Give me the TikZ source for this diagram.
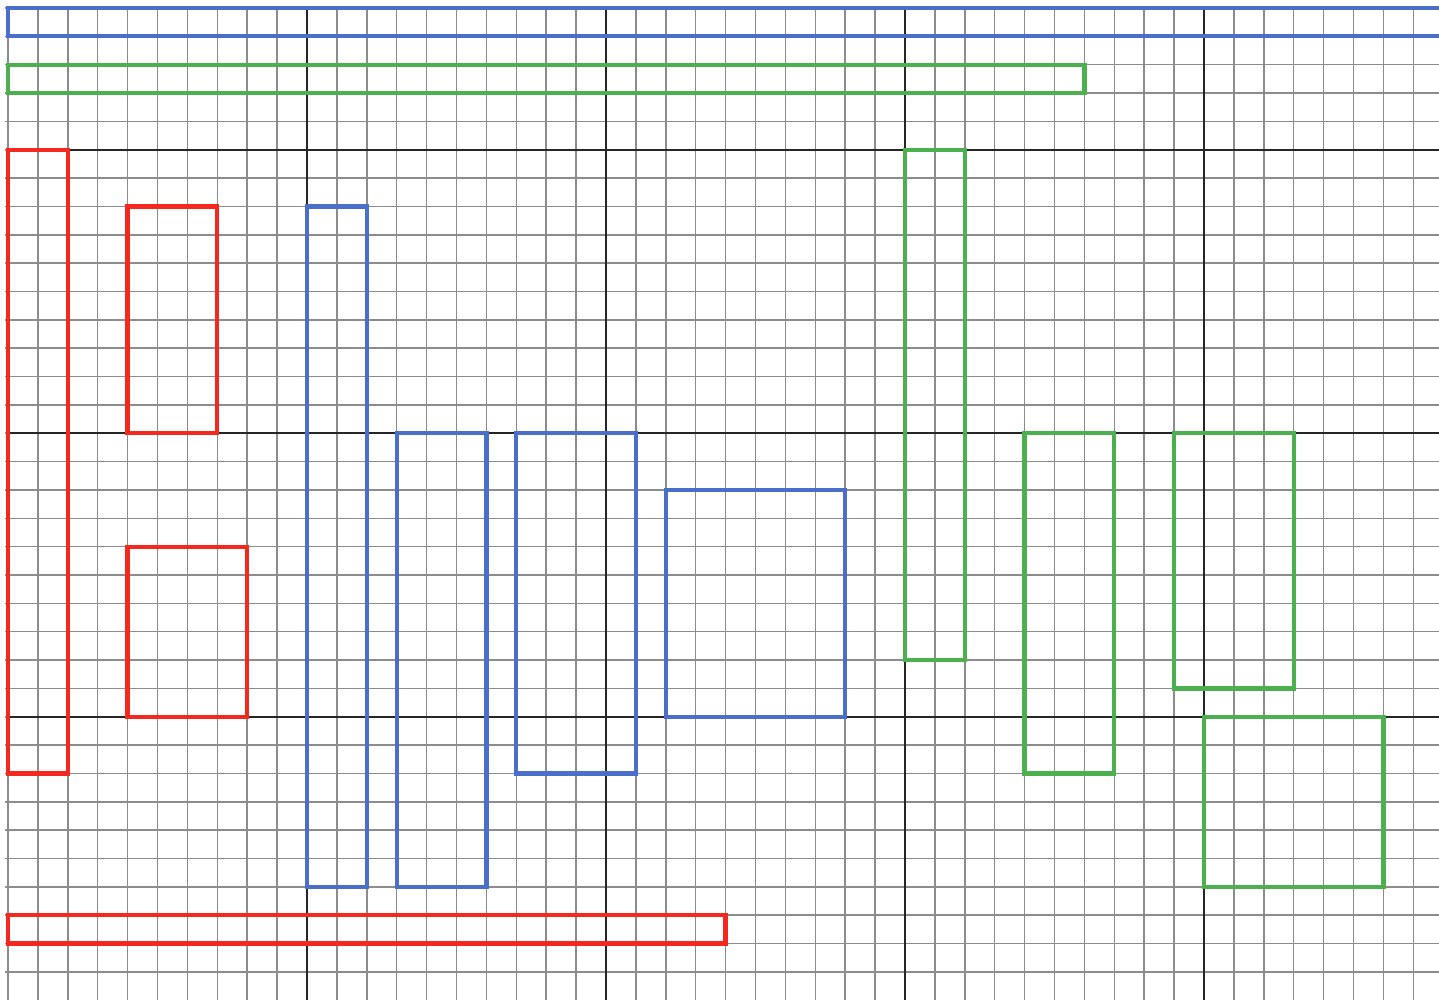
\documentclass[tikz,border=0pt]{standalone}
\usepackage{tikz}
\definecolor{planblue}{HTML}{4A6FCB}
\definecolor{plangreen}{HTML}{4CB04F}
\definecolor{planred}{HTML}{F5281F}
\definecolor{gridgray}{HTML}{8C8C8C}

\begin{document}
\begin{tikzpicture}[x=0.598cm,y=-0.567cm,
  minor/.style={gridgray,line width=0.9pt},
  major/.style={black!85,line width=1.3pt},
  bluebox/.style={draw=planblue,line width=2.4pt},
  greenbox/.style={draw=plangreen,line width=2.4pt},
  redbox/.style={draw=planred,line width=2.4pt}]
\useasboundingbox (-0.2676,-0.2822) rectangle (47.86,34.96);
\clip (-0.2676,-0.2822) rectangle (47.86,34.96);
% grid
\foreach \i in {0,...,47} \draw[minor] (\i,0) -- (\i,35);
\foreach \j in {0,...,34} \draw[minor] (-0.1,\j) -- (48,\j);
\foreach \i in {10,20,30,40} \draw[major] (\i,0) -- (\i,35);
\foreach \j in {5,15,25} \draw[major] (0,\j) -- (48,\j);
% blue
\draw[bluebox] (0,0) rectangle (48.5,1);
\draw[bluebox] (10,7) rectangle (12,31);
\draw[bluebox] (13,15) rectangle (16,31);
\draw[bluebox] (17,15) rectangle (21,27);
\draw[bluebox] (22,17) rectangle (28,25);
% green
\draw[greenbox] (0,2) rectangle (36,3);
\draw[greenbox] (30,5) rectangle (32,23);
\draw[greenbox] (34,15) rectangle (37,27);
\draw[greenbox] (39,15) rectangle (43,24);
\draw[greenbox] (40,25) rectangle (46,31);
% red
\draw[redbox] (0,5) rectangle (2,27);
\draw[redbox] (4,7) rectangle (7,15);
\draw[redbox] (4,19) rectangle (8,25);
\draw[redbox] (0,32) rectangle (24,33);
\end{tikzpicture}
\end{document}
